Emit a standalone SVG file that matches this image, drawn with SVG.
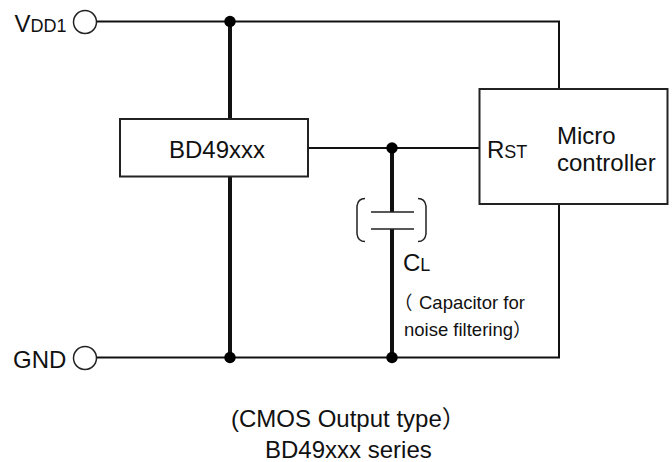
<svg xmlns="http://www.w3.org/2000/svg" width="672" height="462" viewBox="0 0 672 462">
<style>
text{font-family:"Liberation Sans","Noto Sans CJK JP",sans-serif;fill:#111}
.l{font-size:24px}.s{font-size:18px}.n{font-size:18.500px}
.w{fill:none;stroke:#111;stroke-width:2}.t{fill:none;stroke:#111;stroke-width:4}
.c{fill:none;stroke:#222;stroke-width:1.500}
.b{fill:#fff;stroke:#222;stroke-width:2}.d{fill:#000}.o{fill:#fff;stroke:#222;stroke-width:1.500}
</style>
<g id="connectors">
<path class="w" d="M96 21.500H559V89"/>
<path class="w" d="M96 357.500H559V203"/>
<path class="w" d="M308 148H479"/>
<path class="t" d="M230 22V119M230 176V357"/>
<path class="t" d="M392 148V212M392 229V357"/>
<circle class="d" cx="230" cy="21.500" r="5.700"/>
<circle class="d" cx="230" cy="357.500" r="5.700"/>
<circle class="d" cx="392" cy="148" r="5.700"/>
<circle class="d" cx="392" cy="357.500" r="5.700"/>
</g>
<g id="vdd1"><circle class="o" cx="85" cy="22" r="11.500"/><text class="l" x="14.500" y="32">V<tspan class="s">DD1</tspan></text></g>
<g id="gnd"><circle class="o" cx="85" cy="358" r="11.500"/><text class="l" x="13" y="368">GND</text></g>
<g id="bd49xxx"><rect class="b" x="120" y="119" width="188" height="57.500"/><text class="l" x="169" y="158">BD49xxx</text></g>
<g id="microcontroller"><rect class="b" x="479.500" y="89" width="188" height="115"/><text class="l" x="487" y="158">R<tspan class="s">ST</tspan></text><text class="l" x="557" y="144">Micro</text><text class="l" x="557" y="171">controller</text></g>
<g id="capacitor">
<path class="c" d="M371 212H414M371 229H414"/>
<path class="c" d="M365 198.500Q358 198.500 357 206V234Q358 241.500 365 241.500M418 198.500Q425 198.500 426 206V234Q425 241.500 418 241.500"/>
<text class="l" x="403" y="271">C<tspan class="s">L</tspan></text>
<text class="n" x="394" y="309">（<tspan x="419">Capacitor for</tspan></text>
<text class="n" x="404" y="336">noise filtering<tspan>）</tspan></text>
</g>
<g id="caption">
<text class="l" x="231" y="427">(CMOS Output type）</text>
<text class="l" x="265" y="458">BD49xxx series</text>
</g>
</svg>
